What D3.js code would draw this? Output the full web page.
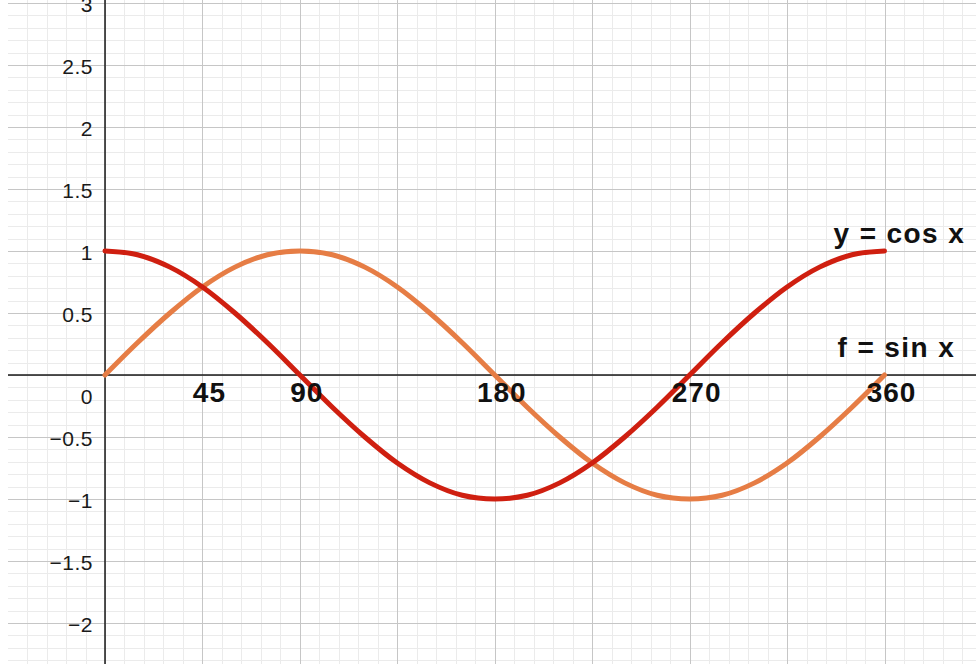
<!DOCTYPE html>
<html>
<head>
<meta charset="utf-8">
<script src="https://cdn.jsdelivr.net/npm/d3@7"></script>
<style>
  html, body { margin: 0; padding: 0; background: #fff; }
  svg { display: block; }
  text { font-family: "Liberation Sans", Arial, Helvetica, sans-serif; }
</style>
</head>
<body>
<svg id="chart" width="976" height="667"></svg>
<script>
// Angle samples in degrees (every 15°) and the curve values read at them
const angles = [0, 15, 30, 45, 60, 75, 90, 105, 120, 135, 150, 165, 180,
                195, 210, 225, 240, 255, 270, 285, 300, 315, 330, 345, 360];
const sinValues = [0, 0.26, 0.5, 0.71, 0.87, 0.97, 1, 0.97, 0.87, 0.71, 0.5, 0.26, 0,
                   -0.26, -0.5, -0.71, -0.87, -0.97, -1, -0.97, -0.87, -0.71, -0.5, -0.26, 0];
const cosValues = [1, 0.97, 0.87, 0.71, 0.5, 0.26, 0, -0.26, -0.5, -0.71, -0.87, -0.97, -1,
                   -0.97, -0.87, -0.71, -0.5, -0.26, 0, 0.26, 0.5, 0.71, 0.87, 0.97, 1];

// Axis labels
const yTickValues = [3, 2.5, 2, 1.5, 1, 0.5, 0, -0.5, -1, -1.5, -2];
const xTickLabels = [45, 90, 180, 270, 360];
const curveLabels = ["y = cos x", "f = sin x"];

const svg = d3.select("#chart");

// Plot frame
const frame = { left: 8, right: 976, top: 0, bottom: 664 };
const x = d3.scaleLinear().domain([0, 360]).range([105, 884.5]);
const y = d3.scaleLinear().domain([0, 1]).range([375, 251]);

const xMin = x.invert(frame.left), xMax = x.invert(frame.right);
const yMin = y.invert(frame.bottom), yMax = y.invert(frame.top);

svg.append("defs").append("clipPath").attr("id", "plot")
  .append("rect").attr("x", frame.left).attr("y", frame.top)
  .attr("width", frame.right - frame.left).attr("height", frame.bottom - frame.top);

const grid = svg.append("g").attr("clip-path", "url(#plot)");

// Minor grid: 9° on x, 0.1 on y
const minorX = d3.range(Math.ceil(xMin / 9) * 9, xMax + 1, 9);
const minorY = d3.range(Math.ceil(yMin * 10), Math.floor(yMax * 10) + 1).map(d => d / 10);
grid.selectAll(".mx").data(minorX).join("line")
  .attr("x1", d => Math.round(x(d)) + 0.5).attr("x2", d => Math.round(x(d)) + 0.5)
  .attr("y1", frame.top).attr("y2", frame.bottom)
  .attr("stroke", "#ebebeb").attr("stroke-width", 1);
grid.selectAll(".my").data(minorY).join("line")
  .attr("y1", d => Math.round(y(d)) + 0.5).attr("y2", d => Math.round(y(d)) + 0.5)
  .attr("x1", frame.left).attr("x2", frame.right)
  .attr("stroke", "#ebebeb").attr("stroke-width", 1);

// Major grid: 45° on x, 0.5 on y
const majorX = d3.range(Math.ceil(xMin / 45) * 45, xMax + 1, 45);
const majorY = d3.range(Math.ceil(yMin * 2), Math.floor(yMax * 2) + 1).map(d => d / 2);
grid.selectAll(".Mx").data(majorX).join("line")
  .attr("x1", d => Math.round(x(d)) + 0.5).attr("x2", d => Math.round(x(d)) + 0.5)
  .attr("y1", frame.top).attr("y2", frame.bottom)
  .attr("stroke", "#c6c6c6").attr("stroke-width", 1);
grid.selectAll(".My").data(majorY).join("line")
  .attr("y1", d => Math.round(y(d)) + 0.5).attr("y2", d => Math.round(y(d)) + 0.5)
  .attr("x1", frame.left).attr("x2", frame.right)
  .attr("stroke", "#c6c6c6").attr("stroke-width", 1);

// Axes
svg.append("line")
  .attr("x1", frame.left).attr("x2", frame.right).attr("y1", y(0)).attr("y2", y(0))
  .attr("stroke", "#1a1a1a").attr("stroke-width", 1.5);
svg.append("line")
  .attr("x1", x(0)).attr("x2", x(0)).attr("y1", frame.top).attr("y2", frame.bottom)
  .attr("stroke", "#1a1a1a").attr("stroke-width", 1.5);

// Y tick labels
const fmt = d => (d < 0 ? "\u2212" : "") + Math.abs(d);
svg.append("g").selectAll("text").data(yTickValues).join("text")
  .attr("x", x(0) - 12)
  .attr("y", d => d === 0 ? y(0) + 29 : y(d) + 9)
  .attr("text-anchor", "end")
  .attr("font-size", 21)
  .attr("letter-spacing", 0.5)
  .attr("fill", "#1a1a1a")
  .text(fmt);

// Curves
const line = d3.line()
  .x((d, i) => x(angles[i]))
  .y(d => y(d))
  .curve(d3.curveCatmullRom.alpha(0.5));

const plot = svg.append("g").attr("clip-path", "url(#plot)");
plot.append("path").datum(sinValues)
  .attr("d", line).attr("fill", "none")
  .attr("stroke", "#e67d45").attr("stroke-width", 5)
  .attr("stroke-linecap", "round").attr("stroke-linejoin", "round");
plot.append("path").datum(cosValues)
  .attr("d", line).attr("fill", "none")
  .attr("stroke", "#cf1f10").attr("stroke-width", 5)
  .attr("stroke-linecap", "round").attr("stroke-linejoin", "round");

// Degree labels along the x-axis
svg.append("g").selectAll("text").data(xTickLabels).join("text")
  .attr("x", d => x(d) + 7)
  .attr("y", y(0) + 27)
  .attr("text-anchor", "middle")
  .attr("font-size", 28)
  .attr("font-weight", "bold")
  .attr("letter-spacing", 1)
  .attr("fill", "#111")
  .text(d => d);

// Curve names
svg.append("text")
  .attr("x", x(360) - 51).attr("y", y(1) - 8)
  .attr("font-size", 28).attr("font-weight", "bold").attr("letter-spacing", 1.4)
  .attr("fill", "#111")
  .text(curveLabels[0]);
svg.append("text")
  .attr("x", x(360) - 47).attr("y", y(0) - 18)
  .attr("font-size", 28).attr("font-weight", "bold").attr("letter-spacing", 1.4)
  .attr("fill", "#111")
  .text(curveLabels[1]);
</script>
</body>
</html>
